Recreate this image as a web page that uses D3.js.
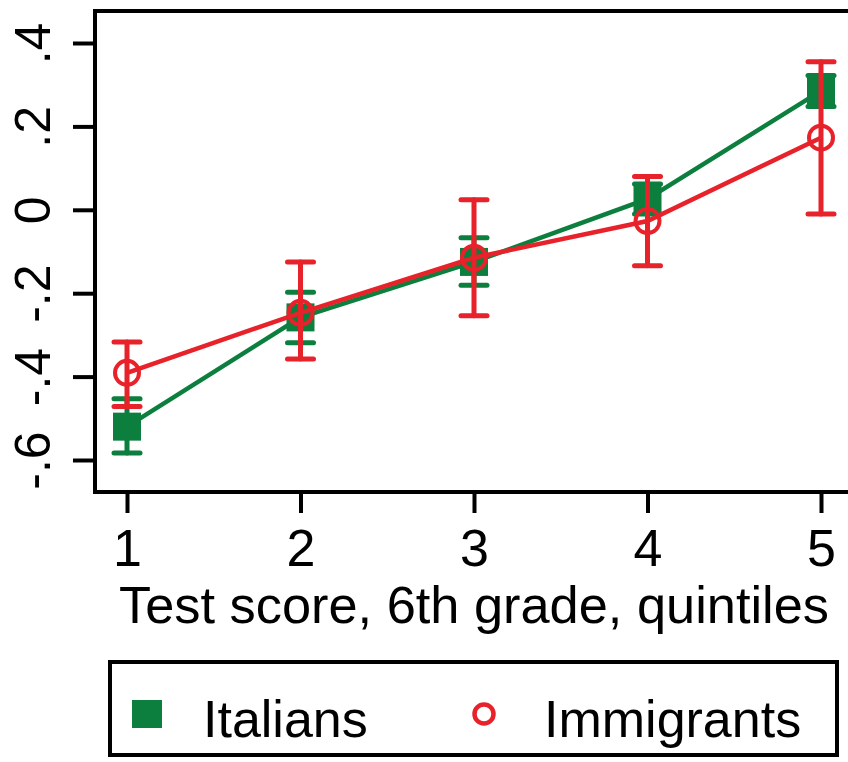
<!DOCTYPE html>
<html>
<head>
<meta charset="utf-8">
<script src="https://cdn.jsdelivr.net/npm/d3@7"></script>
<style>
  html, body { margin: 0; padding: 0; background: #fff; }
  svg { display: block; }
  text { font-family: "Liberation Sans", Arial, Helvetica, sans-serif; fill: #000; }
</style>
</head>
<body>
<svg id="chart" width="848" height="762"></svg>
<script>
// Test-score quintiles on the x axis
const quintiles = [1, 2, 3, 4, 5];

// Italians: point estimates and 95% confidence bounds
const italians   = [-0.52, -0.258, -0.125, 0.026, 0.285];
const italiansLo = [-0.583, -0.319, -0.181, -0.01, 0.248];
const italiansHi = [-0.453, -0.198, -0.067, 0.062, 0.322];

// Immigrants: point estimates and 95% confidence bounds
const immigrants   = [-0.391, -0.247, -0.115, -0.027, 0.173];
const immigrantsLo = [-0.472, -0.358, -0.254, -0.134, -0.01];
const immigrantsHi = [-0.317, -0.125, 0.024, 0.08, 0.355];

const yTicks = [-0.6, -0.4, -0.2, 0, 0.2, 0.4];
const yTickLabels = ["-.6", "-.4", "-.2", "0", ".2", ".4"];
const xLabel = "Test score, 6th grade, quintiles";
const seriesNames = ["Italians", "Immigrants"];

const GREEN = "#0c7f3e";
const RED = "#e8222a";

const svg = d3.select("#chart");

const frame = { left: 95, right: 853, top: 11, bottom: 492 };
const x = d3.scaleLinear().domain([1, 5]).range([127, 821]);
const y = d3.scaleLinear().domain([-0.6, 0.4]).range([460, 43]);

// Plot region frame
svg.append("rect")
  .attr("x", frame.left).attr("y", frame.top)
  .attr("width", frame.right - frame.left)
  .attr("height", frame.bottom - frame.top)
  .attr("fill", "none").attr("stroke", "#000").attr("stroke-width", 4);

// Y axis: outward ticks with rotated labels
const yAxis = d3.axisLeft(y)
  .tickValues(yTicks)
  .tickFormat((d, i) => yTickLabels[i])
  .tickSize(22).tickSizeOuter(0);
const gy = svg.append("g").attr("transform", `translate(${frame.left},0)`).call(yAxis);
gy.select(".domain").remove();
gy.selectAll(".tick line").attr("stroke", "#000").attr("stroke-width", 4);
gy.selectAll(".tick text")
  .attr("x", 0).attr("y", 0).attr("dy", 0)
  .attr("transform", "translate(-45,0) rotate(-90)")
  .attr("text-anchor", "middle")
  .style("font-size", "50px")
  .style("font-family", "'Liberation Sans', Arial, sans-serif");

// X axis
const xAxis = d3.axisBottom(x)
  .tickValues(quintiles)
  .tickFormat(d3.format("d"))
  .tickSize(21).tickSizeOuter(0).tickPadding(16);
const gx = svg.append("g").attr("transform", `translate(0,${frame.bottom})`).call(xAxis);
gx.select(".domain").remove();
gx.selectAll(".tick line").attr("stroke", "#000").attr("stroke-width", 4);
gx.selectAll(".tick text")
  .style("font-size", "52px")
  .style("font-family", "'Liberation Sans', Arial, sans-serif")
  .attr("dy", "0.71em");

// X axis title
svg.append("text")
  .attr("x", (127 + 821) / 2)
  .attr("y", 623)
  .attr("text-anchor", "middle")
  .attr("textLength", 710)
  .attr("lengthAdjust", "spacingAndGlyphs")
  .style("font-size", "52px")
  .text(xLabel);

// Error bars with caps
function errorBars(lo, hi, color) {
  const g = svg.append("g").attr("stroke", color).attr("stroke-width", 5).attr("stroke-linecap", "round");
  const capHalf = 13;
  quintiles.forEach((q, i) => {
    g.append("line").attr("x1", x(q)).attr("x2", x(q)).attr("y1", y(lo[i])).attr("y2", y(hi[i]));
    g.append("line").attr("x1", x(q) - capHalf).attr("x2", x(q) + capHalf).attr("y1", y(lo[i])).attr("y2", y(lo[i]));
    g.append("line").attr("x1", x(q) - capHalf).attr("x2", x(q) + capHalf).attr("y1", y(hi[i])).attr("y2", y(hi[i]));
  });
}

const line = d3.line().x((d, i) => x(quintiles[i])).y(d => y(d));

// Italians
errorBars(italiansLo, italiansHi, GREEN);
svg.append("path").datum(italians).attr("d", line)
  .attr("fill", "none").attr("stroke", GREEN).attr("stroke-width", 4.5);
svg.append("g").selectAll("rect").data(italians).join("rect")
  .attr("x", (d, i) => x(quintiles[i]) - 14)
  .attr("y", d => y(d) - 14)
  .attr("width", 28).attr("height", 28)
  .attr("fill", GREEN);

// Immigrants
errorBars(immigrantsLo, immigrantsHi, RED);
svg.append("path").datum(immigrants).attr("d", line)
  .attr("fill", "none").attr("stroke", RED).attr("stroke-width", 4.5);
svg.append("g").selectAll("circle").data(immigrants).join("circle")
  .attr("cx", (d, i) => x(quintiles[i]))
  .attr("cy", d => y(d))
  .attr("r", 12)
  .attr("fill", "none").attr("stroke", RED).attr("stroke-width", 4);

// Legend
const legend = svg.append("g");
legend.append("rect")
  .attr("x", 110).attr("y", 662).attr("width", 727).attr("height", 93)
  .attr("fill", "#fff").attr("stroke", "#000").attr("stroke-width", 4);
legend.append("rect")
  .attr("x", 132).attr("y", 700).attr("width", 30).attr("height", 28)
  .attr("fill", GREEN);
legend.append("text")
  .attr("x", 203).attr("y", 737)
  .style("font-size", "52px")
  .text(seriesNames[0]);
legend.append("circle")
  .attr("cx", 484).attr("cy", 714).attr("r", 9.5)
  .attr("fill", "none").attr("stroke", RED).attr("stroke-width", 4.5);
legend.append("text")
  .attr("x", 544).attr("y", 737)
  .style("font-size", "52px")
  .text(seriesNames[1]);
</script>
</body>
</html>
